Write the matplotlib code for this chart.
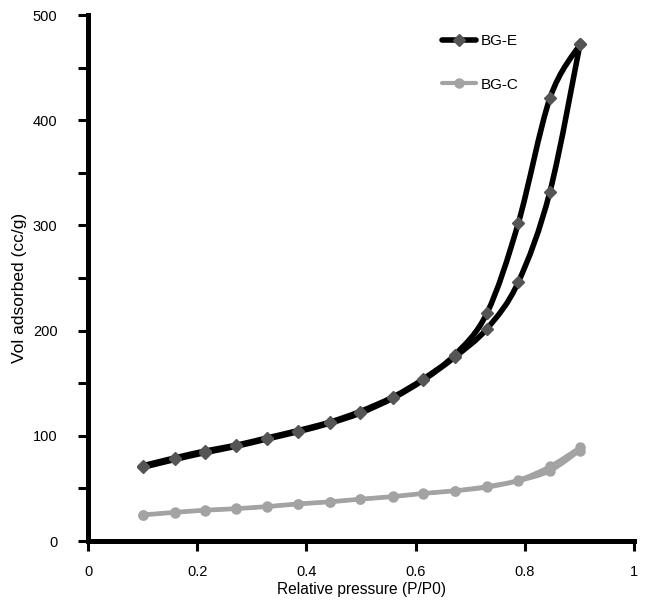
import numpy as np
import matplotlib
matplotlib.use("Agg")
import matplotlib.pyplot as plt
from matplotlib.path import Path
from matplotlib.patches import PathPatch
from matplotlib.ticker import FixedLocator

plt.rcParams['font.family'] = ['Liberation Sans', 'DejaVu Sans']

# ---- data ----
bge_ads_x = [0.100, 0.159, 0.214, 0.271, 0.328, 0.385, 0.443, 0.498, 0.559, 0.614, 0.672, 0.731, 0.788, 0.846, 0.901]
bge_ads_y = [70, 77.5, 84, 90, 97, 104, 112, 121.5, 136, 153, 175, 202, 246, 332, 472]
bge_des_x = [0.901, 0.846, 0.788, 0.731, 0.672, 0.614, 0.559, 0.498, 0.443, 0.385, 0.328, 0.271, 0.214, 0.159, 0.100]
bge_des_y = [472, 421, 302, 217, 177, 154, 137, 123, 113, 105, 98, 91, 85.5, 79, 71.5]

bgc_ads_x = [0.100, 0.159, 0.214, 0.271, 0.328, 0.385, 0.443, 0.498, 0.559, 0.614, 0.672, 0.731, 0.788, 0.846, 0.901]
bgc_ads_y = [24.5, 27, 29, 30.5, 32.5, 35, 37, 39.5, 42, 45, 47.5, 51, 57, 66.5, 86]
bgc_des_x = [0.901, 0.846, 0.788, 0.731, 0.672, 0.614, 0.559, 0.498, 0.443, 0.385, 0.328, 0.271, 0.214, 0.159, 0.100]
bgc_des_y = [89, 71, 58, 52, 48, 45.5, 42.5, 40, 37.5, 35.5, 33, 31, 29.5, 27.5, 25]

x_ticks = [0, 0.2, 0.4, 0.6, 0.8, 1.0]
x_ticklabels = ['0', '0.2', '0.4', '0.6', '0.8', '1']
y_ticks = [0, 100, 200, 300, 400, 500]
y_ticklabels = ['0', '100', '200', '300', '400', '500']


def smooth_path(xs, ys):
    """Catmull-Rom style Bezier path through the data points (smoothed line)."""
    p = np.column_stack([xs, ys]).astype(float)
    n = len(p)
    verts = [p[0]]
    codes = [Path.MOVETO]
    for i in range(n - 1):
        p0 = p[i - 1] if i > 0 else p[i]
        p1 = p[i]
        p2 = p[i + 1]
        p3 = p[i + 2] if i + 2 < n else p[i + 1]
        c1 = p1 + (p2 - p0) / 6.0
        c2 = p2 - (p3 - p1) / 6.0
        verts += [c1, c2, p2]
        codes += [Path.CURVE4] * 3
    return Path(verts, codes)


fig = plt.figure(figsize=(6.5, 6.1), dpi=100)
ax = fig.add_axes([0.1354, 0.1131, 0.9754 - 0.1354, 0.9754 - 0.1131])

E_line = '#000000'
E_mark = '#555555'
C_col = '#a3a3a3'

for xs, ys in [(bgc_ads_x, bgc_ads_y), (bgc_des_x, bgc_des_y)]:
    ax.add_patch(PathPatch(smooth_path(xs, ys), fill=False, edgecolor=C_col, lw=3.0,
                           capstyle='round', joinstyle='round', zorder=2))
    ax.plot(xs, ys, linestyle='none', marker='o', ms=6.5, color=C_col, zorder=3)

for xs, ys in [(bge_ads_x, bge_ads_y), (bge_des_x, bge_des_y)]:
    ax.add_patch(PathPatch(smooth_path(xs, ys), fill=False, edgecolor=E_line, lw=4.0,
                           capstyle='round', joinstyle='round', zorder=4))
    ax.plot(xs, ys, linestyle='none', marker='D', ms=6.2, color=E_mark, zorder=5)

# legend handles
hE, = ax.plot([], [], color=E_line, lw=4.0, marker='D', ms=6.2, mfc=E_mark, mec=E_mark,
              solid_capstyle='round')
hC, = ax.plot([], [], color=C_col, lw=3.0, marker='o', ms=6.5, solid_capstyle='round')
ax.legend([hE, hC], ['BG-E', 'BG-C'], loc='upper left', bbox_to_anchor=(442 / 650, 1 - 34 / 610),
          bbox_transform=fig.transFigure, frameon=False, fontsize=11, handlelength=2.2,
          handletextpad=0.35, labelspacing=1.95, borderpad=0, borderaxespad=0)

ax.set_xlim(0, 1)
ax.set_ylim(0, 500)
for s in ['top', 'right']:
    ax.spines[s].set_visible(False)
for s in ['left', 'bottom']:
    ax.spines[s].set_linewidth(3.6)
    ax.spines[s].set_capstyle('projecting')

ax.set_xticks(x_ticks)
ax.set_xticklabels(x_ticklabels)
ax.set_yticks(y_ticks)
ax.set_yticklabels(y_ticklabels)
ax.yaxis.set_minor_locator(FixedLocator([50, 150, 250, 350, 450]))
ax.tick_params(axis='both', which='both', direction='out', length=7, width=2.2, color='black')
ax.tick_params(axis='y', which='major', pad=15, labelsize=10.5)
ax.tick_params(axis='x', which='major', pad=10, labelsize=10.5)

ax.set_xlabel('Relative pressure (P/P0)', fontsize=11.2, labelpad=2.5)
ax.set_ylabel('Vol adsorbed (cc/g)', fontsize=12.5)
ax.yaxis.set_label_coords(-0.112, 0.482)

fig.savefig('out.png', dpi=100)
